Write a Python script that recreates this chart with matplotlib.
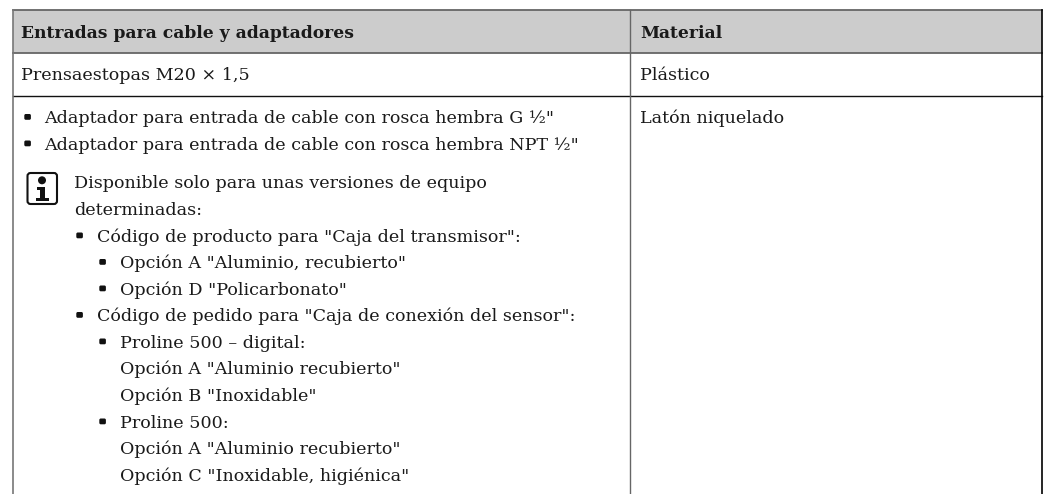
import matplotlib
matplotlib.use("Agg")
import matplotlib.pyplot as plt
from matplotlib.patches import Rectangle, FancyBboxPatch, Circle

W, H = 1045, 494
FONT = "DejaVu Serif"
FS = 12.6
FS_BOLD = 12.3
INK = "#1a1a1a"

header = ["Entradas para cable y adaptadores", "Material"]
row1 = ["Prensaestopas M20 × 1,5", "Plástico"]
material2 = "Latón niquelado"

# (text, x of text, x of bullet or None, baseline y)
body_lines = [
    ('Adaptador para entrada de cable con rosca hembra G ½"', 44, 24, 123),
    ('Adaptador para entrada de cable con rosca hembra NPT ½"', 44, 24, 149.5),
    ('Disponible solo para unas versiones de equipo', 74, None, 187.5),
    ('determinadas:', 74, None, 214.5),
    ('Código de producto para "Caja del transmisor":', 97, 76, 241.5),
    ('Opción A "Aluminio, recubierto"', 120, 99, 268),
    ('Opción D "Policarbonato"', 120, 99, 294.5),
    ('Código de pedido para "Caja de conexión del sensor":', 97, 76, 321),
    ('Proline 500 – digital:', 120, 99, 347.5),
    ('Opción A "Aluminio recubierto"', 120, None, 374),
    ('Opción B "Inoxidable"', 120, None, 400.5),
    ('Proline 500:', 120, 99, 427.5),
    ('Opción A "Aluminio recubierto"', 120, None, 454),
    ('Opción C "Inoxidable, higiénica"', 120, None, 480.5),
]

fig = plt.figure(figsize=(W / 100, H / 100), dpi=100)
ax = fig.add_axes([0, 0, 1, 1])
ax.set_xlim(0, W)
ax.set_ylim(H, 0)
ax.axis("off")

LEFT, RIGHT, DIV = 13, 1042, 630
TOP, HEAD_B, ROW_B = 10, 53, 96

ax.add_patch(Rectangle((LEFT, TOP), RIGHT - LEFT, HEAD_B - TOP, fc="#cccccc", ec="none"))
ax.plot([LEFT, RIGHT], [TOP, TOP], color="#666666", lw=1.3)
ax.plot([LEFT, RIGHT], [HEAD_B, HEAD_B], color="#666666", lw=1.3)
ax.plot([LEFT, RIGHT], [ROW_B, ROW_B], color="#111111", lw=1.0)
ax.plot([LEFT, LEFT], [TOP, H], color="#777777", lw=1.2)
ax.plot([DIV, DIV], [TOP, H], color="#666666", lw=1.0)
ax.plot([RIGHT, RIGHT], [TOP, H], color="#000000", lw=1.2)

ax.text(21, 37.5, header[0], family=FONT, fontsize=FS_BOLD, fontweight="bold", va="baseline", color=INK)
ax.text(640, 37.5, header[1], family=FONT, fontsize=FS_BOLD, fontweight="bold", va="baseline", color=INK)
ax.text(21, 80.5, row1[0], family=FONT, fontsize=FS, va="baseline", color=INK)
ax.text(640, 80.5, row1[1], family=FONT, fontsize=FS, va="baseline", color=INK)
ax.text(640, 123, material2, family=FONT, fontsize=FS, va="baseline", color=INK)

for text, x, bx, y in body_lines:
    ax.text(x, y, text, family=FONT, fontsize=FS, va="baseline", color=INK)
    if bx is not None:
        ax.add_patch(FancyBboxPatch((bx + 0.3, y - 9), 6.6, 5.8, boxstyle="round,pad=0,rounding_size=1.5",
                                    fc="#111111", ec="none"))

# info icon
ax.add_patch(FancyBboxPatch((27.5, 173), 29.5, 31, boxstyle="round,pad=0,rounding_size=3",
                            fc="white", ec="#111111", lw=1.5))
ax.add_patch(Circle((42, 180.3), 4, fc="#111111", ec="none"))
ax.add_patch(Rectangle((37.3, 186.7), 8, 3, fc="#111111", ec="none"))
ax.add_patch(Rectangle((40, 186.7), 5.3, 12, fc="#111111", ec="none"))
ax.add_patch(Rectangle((36, 197.5), 13.3, 3.2, fc="#111111", ec="none"))

fig.savefig("out.png", dpi=100)
